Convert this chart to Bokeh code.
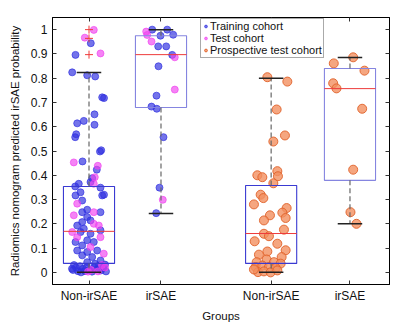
import numpy as np
from bokeh.plotting import figure
from bokeh.models import FixedTicker, LinearAxis, Legend, LegendItem
from bokeh.embed import file_html
from bokeh.resources import INLINE

# ---- categories / positions ----
group_labels = ["Non-irSAE", "irSAE", "Non-irSAE", "irSAE"]
group_pos = [1.0, 2.0, 3.53, 4.625]

# ---- box statistics ----
box_q1 = [0.037, 0.679, 0.037, 0.379]
box_med = [0.169, 0.897, 0.160, 0.757]
box_q3 = [0.354, 0.975, 0.358, 0.840]
whisk_lo = [0.0, 0.243, 0.0, 0.200]
whisk_hi = [0.823, 1.0, 0.800, 0.885]
outlier_y = [1.0, 0.964, 0.897]
outlier_group = [0, 0, 0]

# jitter values are in pixels at 72 px per category step
JIT = 1.0 / 72.0

# ---- Training cohort (blue) ----
train_non_y = [0.944, 0.896, 0.824, 0.812, 0.807, 0.721, 0.718, 0.651, 0.614, 0.624, 0.608,
               0.569, 0.557, 0.503, 0.498, 0.457, 0.423, 0.388, 0.372, 0.354, 0.349, 0.365,
               0.330, 0.317, 0.317, 0.320, 0.296, 0.258, 0.248, 0.248, 0.228, 0.214, 0.207,
               0.193, 0.180, 0.166, 0.173, 0.159, 0.132, 0.125, 0.125, 0.111, 0.090, 0.090,
               0.084, 0.070, 0.063, 0.049, 0.042,
               0.030, 0.020, 0.010, 0.005, 0.025, 0.015, 0.005, 0.020, 0.010, 0.003, 0.020,
               0.012, 0.028, 0.008, 0.018, 0.032, 0.004, 0.015, 0.035, 0.000]
train_non_j = [1.8, -13.5, -16.8, -1.8, 6.2, 13.2, 15.0, 5.5, -11.8, -5.2, 5.5,
               -12.8, -13.8, 12.2, 11.0, -6.5, 7.8, 3.2, 1.5, -13.8, 11.5, -10.2,
               -8.5, -13.5, 13.2, 15.0, -6.8, -1.8, -6.8, 11.5, -1.8, 1.5, -6.8,
               -11.8, -5.2, -8.5, 11.5, 1.5, -1.8, 4.8, -13.5, -6.8, -11.8, 8.2,
               -1.8, -6.8, 3.2, 11.5, -1.8,
               -15, -13, -16, -11, -9, -6, -4, -2, 0, 3, 5,
               8, 10, 12, 14, 16, 17, -17, 6, -8]
train_irs_y = [1.0, 1.0, 0.975, 0.979, 0.931, 0.931, 0.896, 0.849, 0.728, 0.683, 0.674,
               0.557, 0.349, 0.244]
train_irs_j = [-8.8, 6.2, -0.5, 12.2, -2.8, 5.2, 11.2, -2.5, -4.5, -9.5, -4.2,
               2.5, -1.5, -4.8]

# ---- Test cohort (magenta) ----
test_non_y = [0.999, 0.967, 0.902, 0.453, 0.439, 0.392, 0.365, 0.283, 0.248, 0.235, 0.200,
              0.193, 0.166, 0.145, 0.145, 0.104, 0.077, 0.010, 0.004, 0.020, 0.003, 0.030]
test_non_j = [4.8, -4.2, 11.5, -15.2, 8.8, 5.8, 4.8, -11.8, 4.8, -15.2, 4.8,
              9.8, -16.8, -11.8, 11.5, 1.5, 14.8, 2, 9, 16, -1, 13]
test_irs_y = [0.992, 0.978, 0.951, 0.886, 0.753, 0.299]
test_irs_j = [-14.8, -13.8, -9.5, 13.8, 13.8, 1.8]

# ---- Prospective test cohort (orange) ----
prosp_non_y = [0.804, 0.786, 0.671, 0.564, 0.539, 0.417, 0.396, 0.367, 0.400, 0.392,
               0.320, 0.306, 0.280, 0.265, 0.246, 0.224, 0.235, 0.214, 0.176, 0.159,
               0.149, 0.128, 0.118, 0.091, 0.086, 0.073, 0.063,
               0.042, 0.053, 0.042, 0.036, 0.022, 0.028, 0.022, 0.018, 0.001, 0.004,
               0.000, 0.008, 0.012]
prosp_non_j = [-3.8, 16.2, 5.5, 13.8, 2.2, 6.2, 6.8, 2.2, -13.8, -8.8,
               -10.5, -7.8, -17.2, 15.5, 11.2, 14.5, -1.2, -7.2, 12.8, -7.2,
               -2.2, -16.5, 6.2, 14.5, -3.8, -12.2, 10.5,
               -14.5, -4.5, 2.8, 9.5, -15.5, -8.8, -2.2, 4.5, -13.2, -7.2,
               -0.5, 6.2, -17.2]
prosp_irs_y = [0.886, 0.861, 0.831, 0.779, 0.758, 0.674, 0.423, 0.248, 0.200]
prosp_irs_j = [3.2, -16.2, 14.5, -16.8, -13.5, 12.2, 3.2, 0.5, 6.5]


def xs(gi, jit):
    return [group_pos[gi] + j * JIT for j in jit]


FONT = "Liberation Sans"

p = figure(width=405, height=325, x_range=(0.493, 5.174), y_range=(-0.05, 1.05),
           output_backend="svg", toolbar_location=None,
           min_border_left=52, min_border_right=16, min_border_top=17, min_border_bottom=41)
p.grid.visible = False
p.outline_line_color = "black"
p.background_fill_color = "white"
p.border_fill_color = "white"

x_bottom = p.below[0]
y_left = p.left[0]

blue = "#3030e0"
mag = "#f040f0"
org_fill = "#f39060"
org_line = "#e0622a"

r_train = p.scatter(xs(0, train_non_j) + xs(1, train_irs_j), train_non_y + train_irs_y,
                    size=7, fill_color=blue, line_color=blue, fill_alpha=0.68, line_alpha=0.68)
r_test = p.scatter(xs(0, test_non_j) + xs(1, test_irs_j), test_non_y + test_irs_y,
                   size=7, fill_color=mag, line_color=mag, fill_alpha=0.65, line_alpha=0.65)
r_prosp = p.scatter(xs(2, prosp_non_j) + xs(3, prosp_irs_j), prosp_non_y + prosp_irs_y,
                    size=9, fill_color=org_fill, line_color=org_line, fill_alpha=0.8,
                    line_alpha=0.9, line_width=1)

# ---- boxplots ----
half = 0.355
cap = 0.17
pos = np.array(group_pos)
box_colors = ["#3a3ad2", "#8585e0", "#3a3ad2", "#8585e0"]
p.quad(left=pos - half, right=pos + half, bottom=box_q1, top=box_q3,
       fill_color=None, line_color=box_colors, line_width=1.1)
p.segment(x0=pos - half, x1=pos + half, y0=box_med, y1=box_med, line_color="#ee3b3b", line_width=1)
p.segment(x0=pos, x1=pos, y0=box_q3, y1=whisk_hi, line_color="#666666", line_dash="5 3", line_width=1.2)
p.segment(x0=pos, x1=pos, y0=box_q1, y1=whisk_lo, line_color="#666666", line_dash="5 3", line_width=1.2)
p.segment(x0=pos - cap, x1=pos + cap, y0=whisk_hi, y1=whisk_hi, line_color="#222222", line_width=1.5)
p.segment(x0=pos - cap, x1=pos + cap, y0=whisk_lo, y1=whisk_lo, line_color="#222222", line_width=1.5)
p.scatter([group_pos[g] for g in outlier_group], outlier_y, marker="cross", size=8,
          line_color="#ee3b3b", line_width=1)

# ---- axes ----
yt = [round(0.1 * i, 1) for i in range(11)]
ylab = {v: ("0" if v == 0 else ("1" if v == 1 else f"{v:.1f}")) for v in yt}

y_left.ticker = FixedTicker(ticks=yt)
y_left.major_label_overrides = ylab
x_bottom.ticker = FixedTicker(ticks=group_pos)
x_bottom.major_label_overrides = {v: l for v, l in zip(group_pos, group_labels)}

right = LinearAxis(ticker=FixedTicker(ticks=yt), major_label_text_font_size="0px",
                   major_label_standoff=0)
top = LinearAxis(ticker=FixedTicker(ticks=group_pos), major_label_text_font_size="0px",
                 major_label_standoff=0)
p.add_layout(right, "right")
p.add_layout(top, "above")

for ax in [x_bottom, y_left, right, top]:
    ax.major_tick_in = 4
    ax.major_tick_out = 0
    ax.minor_tick_line_color = None
    ax.axis_line_color = "black"
    ax.major_tick_line_color = "#333333"
    ax.major_label_text_font = FONT
    ax.major_label_text_color = "#111111"
    ax.axis_label_text_font = FONT
    ax.axis_label_text_font_style = "normal"
    ax.axis_label_text_color = "#111111"

y_left.major_label_text_font_size = "12px"
x_bottom.major_label_text_font_size = "12px"
y_left.axis_label = "Radiomics nomogram predicted irSAE probability"
y_left.axis_label_text_font_size = "11.5px"
y_left.axis_label_standoff = 7
x_bottom.axis_label = "Groups"
x_bottom.axis_label_text_font_size = "11.5px"
x_bottom.axis_label_standoff = 4
x_bottom.major_label_standoff = 4

# ---- legend ----
legend = Legend(items=[LegendItem(label="Training cohort", renderers=[r_train]),
                       LegendItem(label="Test cohort", renderers=[r_test]),
                       LegendItem(label="Prospective test cohort", renderers=[r_prosp])],
                location=(148, 226), orientation="vertical")
legend.label_text_font = FONT
legend.label_text_font_size = "11px"
legend.label_text_color = "#111111"
legend.glyph_width = 7
legend.glyph_height = 10
legend.label_height = 12
legend.label_standoff = 1
legend.padding = 1
legend.spacing = 0
legend.margin = 0
legend.border_line_color = "#555555"
legend.border_line_width = 1
legend.background_fill_alpha = 1
p.add_layout(legend, "center")

open("out.html", "w").write(file_html(p, INLINE))
